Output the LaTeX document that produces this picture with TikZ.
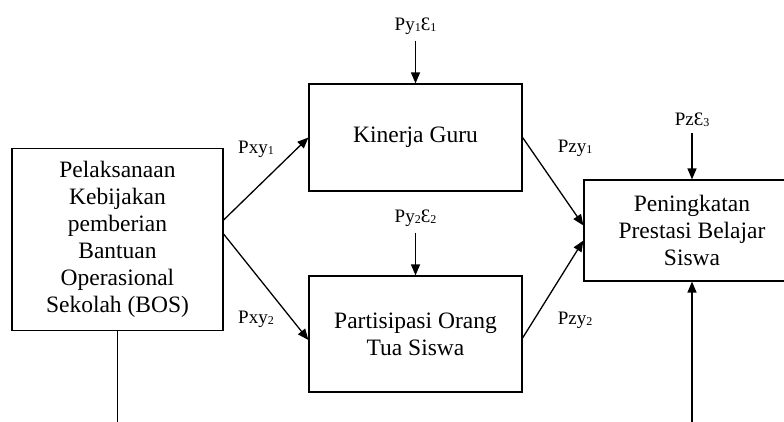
\documentclass[tikz,border=0pt]{standalone}
\usepackage{fontspec}
\setmainfont{Liberation Serif}
\usetikzlibrary{arrows.meta,positioning,calc}
\newcommand{\idx}[1]{\raisebox{-1pt}{\fontsize{12}{12}\selectfont #1}}
\tikzset{box/.style={draw, line width=1.2pt, align=center, inner sep=0pt,
    font=\rmfamily\fontsize{23.5}{27}\selectfont},
  lbl/.style={inner sep=1pt, font=\rmfamily\fontsize{19}{21}\selectfont},
  arr/.style={line width=1.3pt, -{Triangle[length=11pt,width=9pt]}},
  ln/.style={line width=1.1pt}}

\begin{document}
\begin{tikzpicture}[x=1pt,y=-1pt]
\clip (0,0) rectangle (784,421);

%boxes
\node[box, minimum width=211pt, minimum height=182pt] (bos) at (117.5,239.5)
  {Pelaksanaan\\Kebijakan\\pemberian\\Bantuan\\Operasional\\Sekolah (BOS)};
\node[box, minimum width=213pt, minimum height=107pt] (guru) at (415.5,137.5) {Kinerja Guru};
\node[box, minimum width=213pt, minimum height=116pt] (ortu) at (415.5,334) {Partisipasi Orang\\Tua Siswa};
\node[box, minimum width=216pt, minimum height=101pt] (prestasi) at (692,230.5)
  {Peningkatan\\Prestasi Belajar\\Siswa};

%residuals
\node[lbl] (e1) at (415.5,26) {Py\idx{1}Ɛ\idx{1}};
\node[lbl] (e2) at (415.5,218) {Py\idx{2}Ɛ\idx{2}};
\node[lbl] (e3) at (692,120) {PzƐ\idx{3}};
\draw[arr, shorten <=5pt] (e1) -- (guru);
\draw[arr, shorten <=5pt] (e2) -- (ortu);
\draw[arr, shorten <=5pt] (e3) -- (prestasi);

%paths
\draw[arr] ([yshift=19.5pt]bos.east) -- (guru.west);
\draw[arr] ([yshift=5.5pt]bos.east) -- ([yshift=-6pt]ortu.west);
\draw[arr] (guru.east) -- ([yshift=5pt]prestasi.west);
\draw[arr] ([yshift=-4pt]ortu.east) -- ([yshift=-10pt]prestasi.west);

\node[lbl] (pxy1) at (256,149) {Pxy\idx{1}};
\node[lbl] (pxy2) at (256,319) {Pxy\idx{2}};
\node[lbl] (pzy1) at (575,148) {Pzy\idx{1}};
\node[lbl] (pzy2) at (575,320) {Pzy\idx{2}};

%lines leaving the picture
\coordinate (b1) at (117.5,430);
\coordinate (b2) at (692,430);
\draw[ln] (bos.south) -- (b1);
\draw[arr] (b2) -- (prestasi);
\end{tikzpicture}
\end{document}
